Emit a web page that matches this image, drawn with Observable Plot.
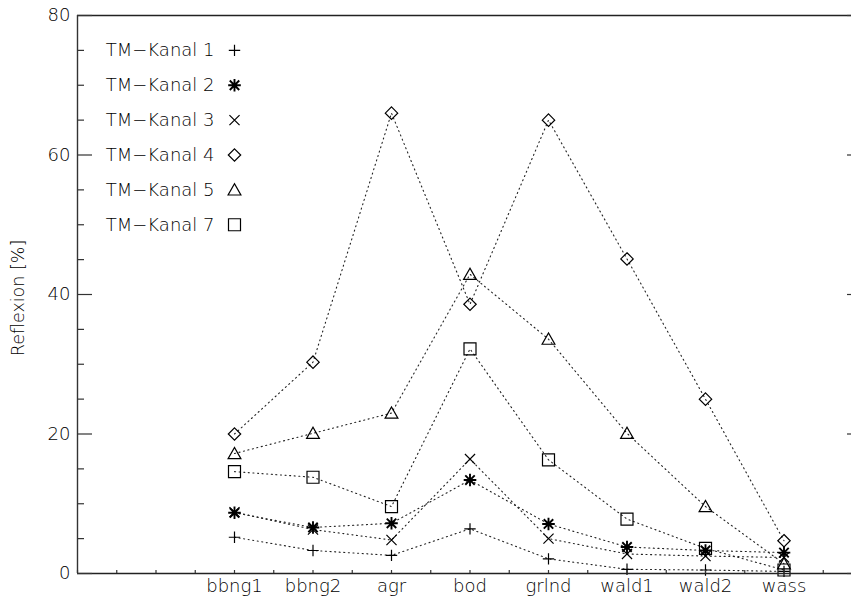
<!DOCTYPE html>
<html>
<head>
<meta charset="utf-8">
<script src="https://cdn.jsdelivr.net/npm/d3@7"></script>
<script src="https://cdn.jsdelivr.net/npm/@observablehq/plot@0.6"></script>
<style>
  html, body { margin: 0; padding: 0; background: #fff; overflow: hidden; }
  #chart svg { display: block; overflow: hidden; }
</style>
</head>
<body>
<div id="chart"></div>
<script>
// Land-cover classes along the x axis and their positions
const categories = ["bbng1", "bbng2", "agr", "bod", "grlnd", "wald1", "wald2", "wass"];
const categoryPos = [2, 3, 4, 5, 6, 7, 8, 9];

// Reflectance (%) per Landsat TM channel
const kanal1 = [5.2, 3.3, 2.6, 6.4, 2.1, 0.6, 0.5, 0.3];
const kanal2 = [8.7, 6.6, 7.2, 13.4, 7.1, 3.8, 3.3, 3.0];
const kanal3 = [8.8, 6.3, 4.8, 16.4, 5.0, 2.8, 2.5, 2.3];
const kanal4 = [20.0, 30.3, 66.0, 38.6, 65.0, 45.1, 25.0, 4.7];
const kanal5 = [17.2, 20.1, 23.0, 42.9, 33.6, 20.1, 9.6, 1.4];
const kanal7 = [14.6, 13.8, 9.6, 32.2, 16.3, 7.8, 3.6, 0.5];

const seriesNames = ["TM−Kanal 1", "TM−Kanal 2", "TM−Kanal 3", "TM−Kanal 4", "TM−Kanal 5", "TM−Kanal 7"];
const legendY = [75, 70, 65, 60, 55, 50];
const yTicks = [0, 20, 40, 60, 80];
const yLabel = "Reflexion [%]";

// Plot geometry
const W = 851, H = 596;
const boxLeft = 77, boxRight = 862, boxTop = 15, boxBottom = 573;
const xDomain = [0, 10], yDomain = [0, 80];
const pxX = (boxRight - boxLeft) / (xDomain[1] - xDomain[0]);
const pxY = (boxBottom - boxTop) / (yDomain[1] - yDomain[0]);

// Outline symbols in the style of classic plotting packages
const symPlus = {draw(c, s) { const r = Math.sqrt(s / Math.PI);
  c.moveTo(-r, 0); c.lineTo(r, 0); c.moveTo(0, -r); c.lineTo(0, r); }};
const symAsterisk = {draw(c, s) { const r = Math.sqrt(s / Math.PI), d = r * 0.75;
  c.moveTo(-r, 0); c.lineTo(r, 0); c.moveTo(0, -r); c.lineTo(0, r);
  c.moveTo(-d, -d); c.lineTo(d, d); c.moveTo(-d, d); c.lineTo(d, -d); }};
const symTimes = {draw(c, s) { const r = Math.sqrt(s / Math.PI) * 0.78;
  c.moveTo(-r, -r); c.lineTo(r, r); c.moveTo(-r, r); c.lineTo(r, -r); }};
const symDiamond = {draw(c, s) { const r = Math.sqrt(s / Math.PI);
  c.moveTo(0, -r); c.lineTo(r, 0); c.lineTo(0, r); c.lineTo(-r, 0); c.closePath(); }};
const symTriangle = {draw(c, s) { const r = Math.sqrt(s / Math.PI);
  c.moveTo(-r, r * 0.8); c.lineTo(r, r * 0.8); c.lineTo(0, -r * 0.95); c.closePath(); }};
const symSquare = {draw(c, s) { const r = Math.sqrt(s / Math.PI);
  c.rect(-r, -r, 2 * r, 2 * r); }};

const seriesValues = [kanal1, kanal2, kanal3, kanal4, kanal5, kanal7];
const seriesSymbols = [symPlus, symAsterisk, symTimes, symDiamond, symTriangle, symSquare];
const seriesR = [5.7, 6.3, 6.5, 6.2, 6.4, 6];
const seriesW = [1.2, 1.9, 1.2, 1.2, 1.2, 1.2];

const rows = seriesValues.flatMap((vals, s) =>
  vals.map((v, i) => ({series: s, x: categoryPos[i], y: v})));

const minorY = d3.range(0, 81, 5).filter(v => v % 20 !== 0);
const minorX = d3.range(0, 10.01, 0.5);

const ink = "#000";
const marks = [];

// Dotted connecting lines
marks.push(Plot.line(rows, {x: "x", y: "y", z: "series", stroke: "#222",
  strokeWidth: 1.1, strokeDasharray: "1.1,3.5"}));

// Symbols on data points and in the legend
seriesNames.forEach((name, s) => {
  const pts = rows.filter(d => d.series === s);
  marks.push(Plot.dot(pts, {x: "x", y: "y", symbol: seriesSymbols[s], r: seriesR[s],
    fill: "none", stroke: ink, strokeWidth: seriesW[s]}));
  marks.push(Plot.dot([{x: categoryPos[0], y: legendY[s]}], {x: "x", y: "y",
    symbol: seriesSymbols[s], r: seriesR[s], fill: "none", stroke: ink, strokeWidth: seriesW[s]}));
});
marks.push(Plot.text(seriesNames, {x: () => categoryPos[0], y: (d, i) => legendY[i],
  text: d => d, textAnchor: "end", dx: -20, fill: ink, fontSize: 18,
  style: "letter-spacing:0.7px"}));

// Box and ticks
marks.push(Plot.ruleY([0, 80], {y: d => d, x1: 0, x2: 10, stroke: "#222", strokeWidth: 1.4}));
marks.push(Plot.ruleX([0, 10], {x: d => d, y1: 0, y2: 80, stroke: "#333", strokeWidth: 1.4}));
marks.push(Plot.ruleY(yTicks, {y: d => d, x1: 0, x2: 15 / pxX, stroke: "#333", strokeWidth: 1.2}));
marks.push(Plot.ruleY(minorY, {y: d => d, x1: 0, x2: 7 / pxX, stroke: "#333", strokeWidth: 1.2}));
marks.push(Plot.ruleY(yTicks, {y: d => d, x1: 10 - 15 / pxX, x2: 10, stroke: "#333", strokeWidth: 1.2}));
marks.push(Plot.ruleY(minorY, {y: d => d, x1: 10 - 7 / pxX, x2: 10, stroke: "#333", strokeWidth: 1.2}));
marks.push(Plot.ruleX(minorX, {x: d => d, y1: 0, y2: 3 / pxY, stroke: "#333", strokeWidth: 1.2}));

// Axis labels
marks.push(Plot.axisY({ticks: yTicks, tickSize: 0, tickPadding: 7, fontSize: 18, label: null, color: ink}));
marks.push(Plot.axisX({ticks: categoryPos, tickSize: 0, tickPadding: 6, fontSize: 18, label: null,
  tickFormat: d => categories[categoryPos.indexOf(d)], color: ink, style: "letter-spacing:0.5px"}));
marks.push(Plot.text([yLabel], {x: () => (18 - boxLeft) / pxX, y: () => 39.5, text: d => d,
  rotate: -90, fontSize: 17.5, fill: ink, style: "letter-spacing:0.6px"}));

const chart = Plot.plot({
  width: W, height: H,
  marginLeft: boxLeft, marginRight: 0, marginTop: boxTop, marginBottom: H - boxBottom,
  style: {fontFamily: "'DejaVu Sans', sans-serif", fontWeight: 300, background: "#fff", overflow: "hidden"},
  x: {type: "linear", domain: xDomain, range: [boxLeft, boxRight]},
  y: {type: "linear", domain: yDomain, range: [boxBottom, boxTop]},
  marks
});
document.getElementById("chart").append(chart);
</script>
</body>
</html>
